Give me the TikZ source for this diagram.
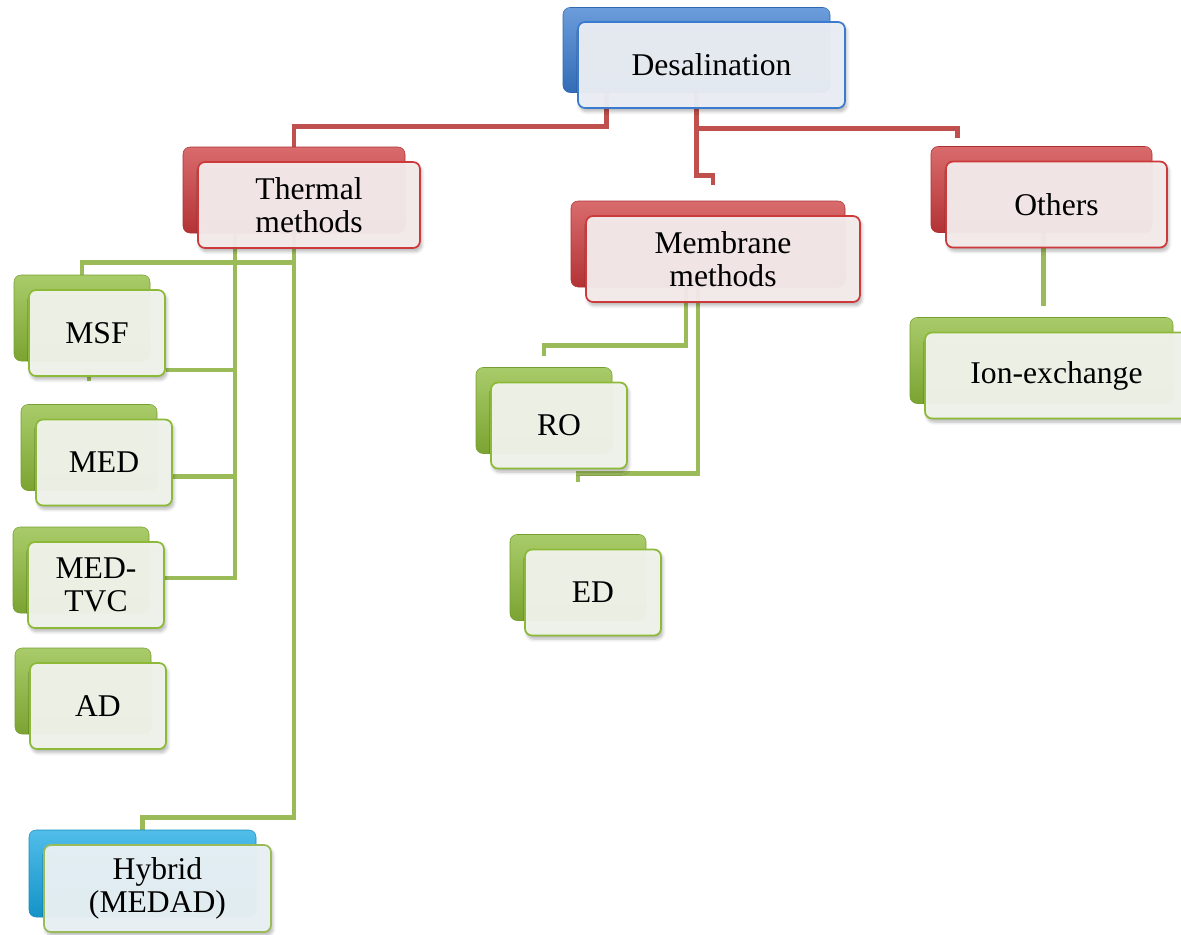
\documentclass[tikz,border=0pt]{standalone}
\usepackage{fontspec}
\setmainfont{Liberation Serif}
\usetikzlibrary{calc,shadows.blur}
\definecolor{dsblue}{HTML}{3A7BCF}
\definecolor{dsred}{HTML}{CC3A3C}
\definecolor{dsgreen}{HTML}{8CBA38}
\definecolor{dscyan}{HTML}{17A7E2}
\definecolor{dsredlink}{HTML}{C0504D}
\definecolor{dsgreenlink}{HTML}{9BBB59}
\pgfdeclarelayer{background}
\pgfsetlayers{background,main}
\tikzset{
  boxsize/.style 2 args={minimum width=#1*0.02cm,minimum height=#2*0.02cm},
  backbox/.style={rounded corners=4pt,inner sep=0pt,draw=#1!85!black,line width=0.3pt,
    top color=#1!75!white,middle color=#1,bottom color=#1!88!black},
  frontbox/.style={rounded corners=4pt,inner sep=2pt,draw=#1,line width=1pt,
    fill=#1!7!white!97!black,fill opacity=0.97,text opacity=1,align=center,
    font=\fontsize{18}{19}\selectfont,
    blur shadow={shadow xshift=1pt,shadow yshift=-2pt,shadow opacity=30,shadow blur steps=6}},
  redlink/.style={draw=dsredlink,line width=2.6pt},
  greenlink/.style={draw=dsgreenlink,line width=2.6pt},
}

\begin{document}
\begin{tikzpicture}[x=0.02cm,y=-0.02cm]
  \path[use as bounding box] (0,0) rectangle (1181,934);
  % top level
  \node[backbox=dsblue,boxsize={267}{85}] (desal-b) at (696.5,50) {};
  \node[frontbox=dsblue,boxsize={267}{86}] (desal) at (711.5,65) {Desalination};
  % second level
  \foreach \n/\x/\y/\w/\t in {therm/309/205/222/{Thermal\\methods},
      memb/723/259/274/{Membrane\\methods},oth/1056.5/204.5/221/Others}
    {\node[backbox=dsred,boxsize={\w}{86}] (\n-b) at (\x-15,\y-15) {};
     \node[frontbox=dsred,boxsize={\w}{86}] (\n) at (\x,\y) {\t};}
  % processes
  \foreach \n/\x/\y/\w/\t in {msf/97/333/136/MSF,med/104/462.5/136/MED,
      medtvc/96/585/136/{MED-\\TVC},ad/98/706/136/AD,ro/559/425.5/136/RO,
      ed/593/592.5/136/ED,ion/1056.5/375.5/263/Ion-exchange}
    {\node[backbox=dsgreen,boxsize={\w}{86}] (\n-b) at (\x-15,\y-15) {};
     \node[frontbox=dsgreen,boxsize={\w}{86}] (\n) at (\x,\y) {\t};}
  \node[backbox=dscyan,boxsize={227}{87}] (hybrid-b) at (142.5,873.5) {};
  \node[frontbox=dscyan,draw=dsgreenlink,boxsize={227}{87}] (hybrid) at (157.5,888.5)
    {Hybrid\\(MEDAD)};
  \begin{pgfonlayer}{background}
    \draw[redlink] ($(desal-b.south)+(-90,0)$) |- ($(therm-b.north)+(0,-20)$) -- (therm-b.north);
    \draw[redlink] (desal-b.south) -- ++(0,83) -| ($(memb-b.north)+(5,-16)$);
    \draw[redlink] ($(desal-b.south)+(0,36)$) -| ($(oth-b.north west)+(27,-8)$);
    % thermal branch
    \draw[greenlink] ($(therm-b.south)+(-59,0)$) coordinate (tleft) |- ($(medtvc.east)+(0,-7)$);
    \draw[greenlink] ($(msf.east)+(0,37)$) -| (tleft);
    \draw[greenlink] ($(med.east)+(0,14)$) -| (tleft);
    \draw[greenlink] ($(therm-b.south)+(0,29)$) -| (msf-b.north);
    \draw[greenlink] ($(msf.south)+(-8,-8)$) -- ++(0,12);
    \draw[greenlink] (therm-b.south) |- ($(hybrid-b.north)+(0,-12)$) -- (hybrid-b.north);
    % membrane branch
    \draw[greenlink] ($(memb-b.south)+(-22,0)$) |- ($(ro-b.north)+(0,-22)$) -- ++(0,11);
    \draw[greenlink] ($(memb-b.south)+(-10,0)$) |- ($(ed-b.north)+(0,-61)$) -- ++(0,9);
    % others
    \draw[greenlink] ($(oth-b.south)+(2,0)$) -- ++(0,73);
  \end{pgfonlayer}
\end{tikzpicture}
\end{document}
